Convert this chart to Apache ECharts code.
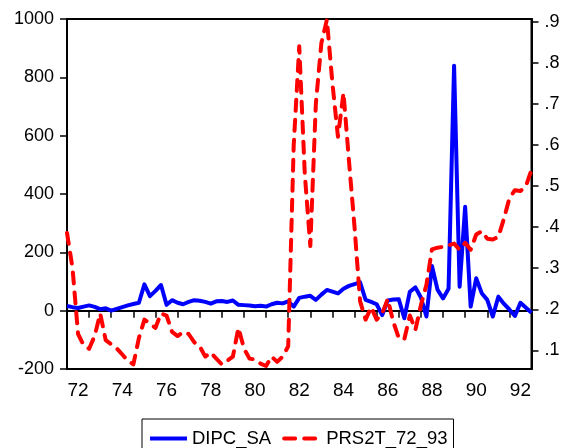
<!DOCTYPE html>
<html>
<head>
<meta charset="utf-8">
<script src="https://cdn.jsdelivr.net/npm/echarts@6/dist/echarts.min.js"></script>
<style>
  html, body { margin: 0; padding: 0; background: #fff; }
  #main { width: 571px; height: 448px; }
</style>
</head>
<body>
<div id="main"></div>
<script>
var chart = echarts.init(document.getElementById('main'));

// quarterly sample 1972Q1 - 1993Q1
var quarters = [];
for (var y = 1972; y <= 1993; y++) {
    for (var q = 1; q <= 4; q++) {
        if (y === 1993 && q > 1) break;
        quarters.push(y + 'Q' + q);
    }
}

var dipcSA = [16, 12, 9, 14, 18, 13, 5, 8, 0, 6,
    12, 18, 23, 27, 90, 50, 68, 88, 20, 36,
    27, 22, 30, 36, 34, 30, 24, 32, 33, 30,
    35, 20, 19, 18, 15, 17, 14, 22, 27, 25,
    32, 14, 44, 48, 51, 37, 55, 71, 65, 59,
    75, 85, 91, 97, 37, 30, 22, -15, 35, 38,
    39, -26, 65, 80, 45, -20, 153, 72, 42, 75,
    840, 82, 356, 14, 111, 60, 37, -20, 48, 24,
    4, -18, 27, 10, -7];

var prs2t = [0.386, 0.30, 0.14, 0.113, 0.104, 0.135, 0.19, 0.125, 0.115, 0.105,
    0.09, 0.075, 0.066, 0.13, 0.175, 0.165, 0.155, 0.19, 0.185, 0.145,
    0.135, 0.145, 0.14, 0.12, 0.11, 0.085, 0.095, 0.08, 0.066, 0.075,
    0.085, 0.155, 0.105, 0.08, 0.078, 0.068, 0.062, 0.085, 0.072, 0.085,
    0.11, 0.6, 0.84, 0.53, 0.354, 0.70, 0.848, 0.905, 0.75, 0.62,
    0.727, 0.56, 0.40, 0.22, 0.175, 0.205, 0.175, 0.19, 0.225, 0.17,
    0.13, 0.127, 0.185, 0.15, 0.21, 0.26, 0.346, 0.35, 0.352, 0.356,
    0.36, 0.345, 0.362, 0.345, 0.382, 0.39, 0.372, 0.37, 0.376, 0.42,
    0.47, 0.49, 0.488, 0.50, 0.54];

var leftTicks = [-200, 0, 200, 400, 600, 800, 1000];
var rightTicks = [0.1, 0.2, 0.3, 0.4, 0.5, 0.6, 0.7, 0.8, 0.9];

var font = 'Liberation Sans, Arial, sans-serif';

var option = {
    animation: false,
    backgroundColor: '#fff',
    grid: {
        show: true,
        left: 67,
        right: 39.5,
        top: 19,
        bottom: 79,
        borderColor: '#000',
        borderWidth: 2,
        backgroundColor: 'transparent'
    },
    legend: {
        left: 142,
        top: 419,
        padding: [10, 6, 10, 6],
        borderColor: '#000',
        borderWidth: 1,
        itemWidth: 37,
        itemHeight: 14,
        itemGap: 11,
        itemStyle: { opacity: 0 },
        lineStyle: { width: 4 },
        textStyle: { fontSize: 18.5, fontFamily: font, color: '#000' },
        data: ['DIPC_SA', 'PRS2T_72_93']
    },
    xAxis: {
        type: 'category',
        boundaryGap: false,
        data: quarters,
        axisLine: { lineStyle: { color: '#000', width: 2 } },
        axisTick: {
            length: 7,
            lineStyle: { color: '#000', width: 1.5 },
            interval: function (i) { return i % 4 === 0; }
        },
        axisLabel: {
            fontSize: 19,
            fontFamily: font,
            color: '#000',
            margin: 12,
            interval: function (i) { return i % 8 === 2; },
            formatter: function (v) { return v.slice(2, 4); }
        },
        splitLine: { show: false }
    },
    yAxis: [{
        type: 'value',
        min: -200,
        max: 1000,
        interval: 200,
        axisLine: { show: true, lineStyle: { color: '#000', width: 2 } },
        axisTick: { show: true, length: 7, lineStyle: { color: '#000', width: 1.5 } },
        axisLabel: {
            fontSize: 18, fontFamily: font, color: '#000', margin: 13,
            customValues: leftTicks,
            formatter: function (v) { return String(v); }
        },
        splitLine: { show: false }
    }, {
        type: 'value',
        position: 'right',
        min: 0.0548,
        max: 0.9066,
        axisLine: { show: true, lineStyle: { color: '#000', width: 2 } },
        axisTick: {
            show: true, length: 7, lineStyle: { color: '#000', width: 1.5 },
            customValues: rightTicks
        },
        axisLabel: {
            fontSize: 18, fontFamily: font, color: '#000', margin: 13,
            customValues: rightTicks,
            formatter: function (v) { return String(Math.round(v * 10) / 10).replace(/^0/, ''); }
        },
        splitLine: { show: false }
    }],
    series: [{
        name: 'DIPC_SA',
        type: 'line',
        yAxisIndex: 0,
        data: dipcSA,
        symbol: 'none',
        lineStyle: { color: '#0000FF', width: 4, join: 'round' },
        itemStyle: { color: '#0000FF' }
    }, {
        name: 'PRS2T_72_93',
        type: 'line',
        yAxisIndex: 1,
        data: prs2t,
        symbol: 'none',
        lineStyle: { color: '#FF0000', width: 4, type: [11, 9], cap: 'round', join: 'round' },
        itemStyle: { color: '#FF0000' }
    }]
};

chart.setOption(option);
</script>
</body>
</html>
